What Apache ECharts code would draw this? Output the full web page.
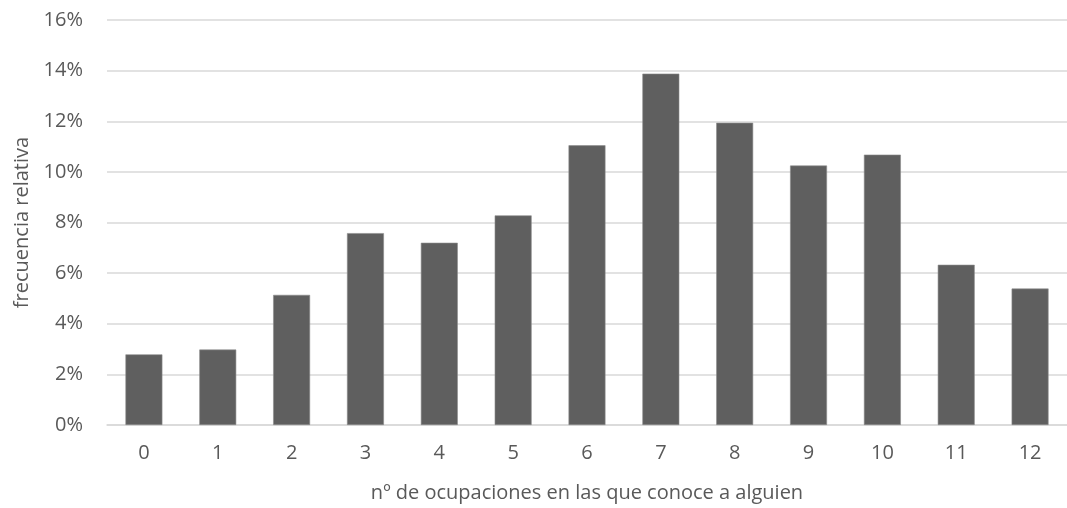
<!DOCTYPE html>
<html>
<head>
<meta charset="utf-8">
<script src="https://cdn.jsdelivr.net/npm/echarts@6/dist/echarts.min.js"></script>
<style>
  html, body { margin: 0; padding: 0; background: #fff; }
  #chart { width: 1067px; height: 508px; }
</style>
</head>
<body>
<div id="chart"></div>
<script>
var categories = ['0', '1', '2', '3', '4', '5', '6', '7', '8', '9', '10', '11', '12']
// frecuencia relativa (%)
var values = [2.79, 2.98, 5.14, 7.58, 7.20, 8.28, 11.05, 13.88, 11.94, 10.25, 10.68, 6.33, 5.39]
var yTicks = [0, 2, 4, 6, 8, 10, 12, 14, 16]

var chart = echarts.init(document.getElementById('chart'))
var textColor = '#595959'
var font = '"Open Sans", sans-serif'

chart.setOption({
  animation: false,
  grid: { left: 107, right: 0, top: 20, bottom: 82 },
  xAxis: {
    type: 'category',
    data: categories,
    name: 'nº de ocupaciones en las que conoce a alguien',
    nameLocation: 'middle',
    nameGap: 58,
    nameTextStyle: { color: textColor, fontSize: 20, fontFamily: font },
    axisLine: { show: true, lineStyle: { color: '#d9d9d9', width: 1.5 } },
    axisTick: { show: false },
    axisLabel: { color: textColor, fontSize: 20, fontFamily: font, margin: 18 }
  },
  yAxis: {
    type: 'value',
    min: yTicks[0],
    max: yTicks[yTicks.length - 1],
    interval: 2,
    name: 'frecuencia relativa',
    nameLocation: 'middle',
    nameGap: 74,
    nameTextStyle: { color: textColor, fontSize: 20, fontFamily: font },
    axisLine: { show: false },
    axisTick: { show: false },
    splitLine: { lineStyle: { color: '#d9d9d9', width: 1.5 } },
    axisLabel: {
      color: textColor, fontSize: 20, fontFamily: font, margin: 24,
      formatter: function (v) { return v + '%' }
    }
  },
  series: [{
    type: 'bar',
    data: values,
    barWidth: '50%',
    itemStyle: { color: '#5f5f5f', borderColor: '#8c8c8c', borderWidth: 0.6 }
  }]
})
</script>
</body>
</html>
